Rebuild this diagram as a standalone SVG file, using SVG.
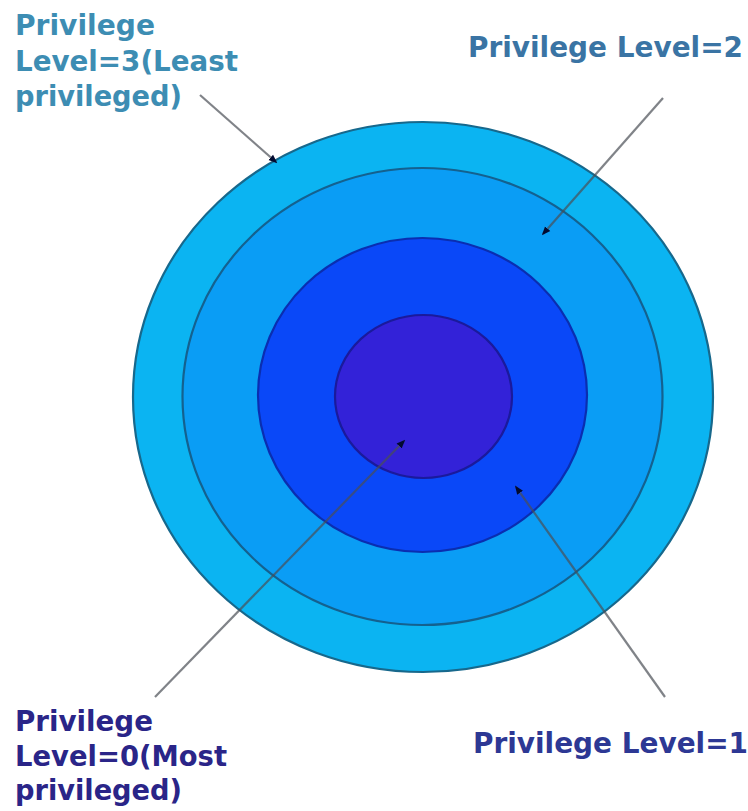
<svg xmlns="http://www.w3.org/2000/svg" width="748" height="811" viewBox="0 0 748 811">
<style>
.lbl{font-family:"DejaVu Sans","Liberation Sans",sans-serif;font-weight:bold;font-size:28px}
.lead{stroke:#4a4f55;stroke-opacity:0.7;stroke-width:2.2;fill:none}
</style>
<defs>
<marker id="tip" viewBox="0 0 10 10" refX="8" refY="5" markerWidth="4" markerHeight="4" orient="auto" markerUnits="strokeWidth">
<path d="M0,1 L10,5 L0,9 Z" fill="#020a30"/>
</marker>
</defs>
<rect width="748" height="811" fill="#ffffff"/>
<g id="ring3"><ellipse cx="423" cy="397" rx="290" ry="275" fill="#0bb4f2" stroke="#17688c" stroke-width="2.2"/></g>
<g id="ring2"><ellipse cx="422.5" cy="396.5" rx="240" ry="228.5" fill="#0a9df5" stroke="#14618f" stroke-width="2.2"/></g>
<g id="ring1"><ellipse cx="422.5" cy="395" rx="164.5" ry="157" fill="#0a48f8" stroke="#0a2eb0" stroke-width="2.2"/></g>
<g id="ring0"><ellipse cx="423.5" cy="396.5" rx="88.5" ry="81.5" fill="#3322d8" stroke="#1a1a9c" stroke-width="2.2"/></g>
<g id="connectors">
<line class="lead" x1="200" y1="95" x2="276" y2="162" marker-end="url(#tip)"/>
<line class="lead" x1="663" y1="98" x2="543" y2="234" marker-end="url(#tip)"/>
<line class="lead" x1="155" y1="697" x2="404" y2="441" marker-end="url(#tip)"/>
<line class="lead" x1="665" y1="697" x2="516" y2="487" marker-end="url(#tip)"/>
</g>
<g id="label3" class="lbl" fill="#3d8db3">
<text x="15" y="35" textLength="140" lengthAdjust="spacingAndGlyphs">Privilege</text>
<text x="15" y="71" textLength="223" lengthAdjust="spacingAndGlyphs">Level=3(Least</text>
<text x="15" y="106" textLength="167" lengthAdjust="spacingAndGlyphs">privileged)</text>
</g>
<g id="label2" class="lbl" fill="#3a74a4">
<text x="468" y="57" textLength="275" lengthAdjust="spacingAndGlyphs">Privilege Level=2</text>
</g>
<g id="label0" class="lbl" fill="#2a2588">
<text x="15" y="731" textLength="138" lengthAdjust="spacingAndGlyphs">Privilege</text>
<text x="15" y="766" textLength="212" lengthAdjust="spacingAndGlyphs">Level=0(Most</text>
<text x="15" y="800" textLength="167" lengthAdjust="spacingAndGlyphs">privileged)</text>
</g>
<g id="label1" class="lbl" fill="#2d3894">
<text x="473" y="753" textLength="275" lengthAdjust="spacingAndGlyphs">Privilege Level=1</text>
</g>
</svg>
